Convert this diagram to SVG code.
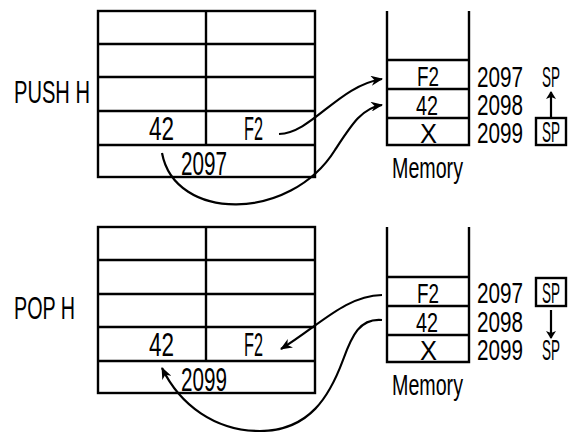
<svg xmlns="http://www.w3.org/2000/svg" width="568" height="432" viewBox="0 0 568 432">
  <style>
    .ln { fill: none; stroke: #000; stroke-width: 2.4; }
    .cv { fill: none; stroke: #000; stroke-width: 2.2; }
    .t { font-family: "Liberation Sans", "DejaVu Sans", sans-serif; fill: #000; }
    .big { font-size: 34px; }
    .mid { font-size: 30px; }
    .cell { font-size: 28px; }
    .lab { font-size: 32px; }
  </style>
  <defs>
    <marker id="head" viewBox="0 0 12 10" markerWidth="12" markerHeight="10" refX="11" refY="5" orient="auto" markerUnits="userSpaceOnUse">
      <path d="M0,0 L12,5 L0,10 L3.5,5 z" fill="#000"/>
    </marker>
    <marker id="small" viewBox="0 0 8 10" markerWidth="8" markerHeight="10" refX="7" refY="5" orient="auto" markerUnits="userSpaceOnUse">
      <path d="M0,0 L8,5 L0,10 L2,5 z" fill="#000"/>
    </marker>
  </defs>
  <rect width="568" height="432" fill="#fff"/>

  <!-- PUSH H section -->
  <g id="push-label">
    <text class="t lab" x="14" y="103" textLength="76" lengthAdjust="spacingAndGlyphs">PUSH H</text>
  </g>
  <g id="push-registers">
    <rect class="ln" x="98" y="11" width="217" height="166"/>
    <line class="ln" x1="98" y1="44" x2="315" y2="44"/>
    <line class="ln" x1="98" y1="77" x2="315" y2="77"/>
    <line class="ln" x1="98" y1="111" x2="315" y2="111"/>
    <line class="ln" x1="98" y1="145" x2="315" y2="145"/>
    <line class="ln" x1="206" y1="11" x2="206" y2="145"/>
    <text class="t big" x="149" y="140" textLength="25" lengthAdjust="spacingAndGlyphs">42</text>
    <text class="t big" x="244" y="140" textLength="19" lengthAdjust="spacingAndGlyphs">F2</text>
    <text class="t big" x="181" y="175" textLength="46" lengthAdjust="spacingAndGlyphs">2097</text>
  </g>
  <g id="push-memory">
    <polyline class="ln" points="387,11 387,145 469,145 469,11"/>
    <line class="ln" x1="387" y1="60" x2="469" y2="60"/>
    <line class="ln" x1="387" y1="89" x2="469" y2="89"/>
    <line class="ln" x1="387" y1="118" x2="469" y2="118"/>
    <text class="t cell" x="417" y="86" textLength="22" lengthAdjust="spacingAndGlyphs">F2</text>
    <text class="t cell" x="416" y="115" textLength="22" lengthAdjust="spacingAndGlyphs">42</text>
    <text class="t cell" x="420" y="143" textLength="17" lengthAdjust="spacingAndGlyphs">X</text>
    <text class="t" font-size="29" x="392" y="178" textLength="71" lengthAdjust="spacingAndGlyphs">Memory</text>
  </g>
  <g id="push-addresses">
    <text class="t mid" x="477" y="87" textLength="46" lengthAdjust="spacingAndGlyphs">2097</text>
    <text class="t mid" x="477" y="115" textLength="46" lengthAdjust="spacingAndGlyphs">2098</text>
    <text class="t mid" x="477" y="143" textLength="46" lengthAdjust="spacingAndGlyphs">2099</text>
    <text class="t mid" x="542" y="87" textLength="18" lengthAdjust="spacingAndGlyphs">SP</text>
    <rect class="ln" x="536" y="118" width="30" height="27" stroke-width="2"/>
    <text class="t mid" x="542" y="142" textLength="18" lengthAdjust="spacingAndGlyphs">SP</text>
  </g>

  <!-- POP H section -->
  <g id="pop-label">
    <text class="t lab" x="14" y="319" textLength="61" lengthAdjust="spacingAndGlyphs">POP H</text>
  </g>
  <g id="pop-registers">
    <rect class="ln" x="98" y="227" width="217" height="166"/>
    <line class="ln" x1="98" y1="260" x2="315" y2="260"/>
    <line class="ln" x1="98" y1="294" x2="315" y2="294"/>
    <line class="ln" x1="98" y1="327" x2="315" y2="327"/>
    <line class="ln" x1="98" y1="361" x2="315" y2="361"/>
    <line class="ln" x1="206" y1="227" x2="206" y2="361"/>
    <text class="t big" x="149" y="356" textLength="25" lengthAdjust="spacingAndGlyphs">42</text>
    <text class="t big" x="244" y="356" textLength="19" lengthAdjust="spacingAndGlyphs">F2</text>
    <text class="t big" x="181" y="391" textLength="46" lengthAdjust="spacingAndGlyphs">2099</text>
  </g>
  <g id="pop-memory">
    <polyline class="ln" points="387,227 387,362 469,362 469,227"/>
    <line class="ln" x1="387" y1="277" x2="469" y2="277"/>
    <line class="ln" x1="387" y1="306" x2="469" y2="306"/>
    <line class="ln" x1="387" y1="335" x2="469" y2="335"/>
    <text class="t cell" x="417" y="303" textLength="22" lengthAdjust="spacingAndGlyphs">F2</text>
    <text class="t cell" x="416" y="332" textLength="22" lengthAdjust="spacingAndGlyphs">42</text>
    <text class="t cell" x="420" y="360" textLength="17" lengthAdjust="spacingAndGlyphs">X</text>
    <text class="t" font-size="29" x="392" y="395" textLength="71" lengthAdjust="spacingAndGlyphs">Memory</text>
  </g>
  <g id="pop-addresses">
    <text class="t mid" x="477" y="303" textLength="46" lengthAdjust="spacingAndGlyphs">2097</text>
    <text class="t mid" x="477" y="332" textLength="46" lengthAdjust="spacingAndGlyphs">2098</text>
    <text class="t mid" x="477" y="360" textLength="46" lengthAdjust="spacingAndGlyphs">2099</text>
    <rect class="ln" x="536" y="278" width="30" height="28" stroke-width="2"/>
    <text class="t mid" x="542" y="303" textLength="18" lengthAdjust="spacingAndGlyphs">SP</text>
    <text class="t mid" x="542" y="360" textLength="18" lengthAdjust="spacingAndGlyphs">SP</text>
  </g>

  <!-- connectors -->
  <g id="connectors">
    <path class="cv" d="M279,134 C312,133 338,86 382,79" marker-end="url(#head)"/>
    <path class="cv" d="M162,153 C175,222 290,222 335,150 C352,124 362,108 382,105" marker-end="url(#head)"/>
    <line class="cv" x1="551" y1="117" x2="551" y2="92" stroke-width="1.8" marker-end="url(#small)"/>
    <path class="cv" d="M382,295 C345,296 320,325 281,349" marker-end="url(#head)"/>
    <path class="cv" d="M382,320 C360,318 352,335 343,360 C330,395 310,431 260,431 C215,431 180,405 162,368" marker-end="url(#head)"/>
    <line class="cv" x1="551" y1="310" x2="551" y2="338" stroke-width="1.8" marker-end="url(#small)"/>
  </g>
</svg>
